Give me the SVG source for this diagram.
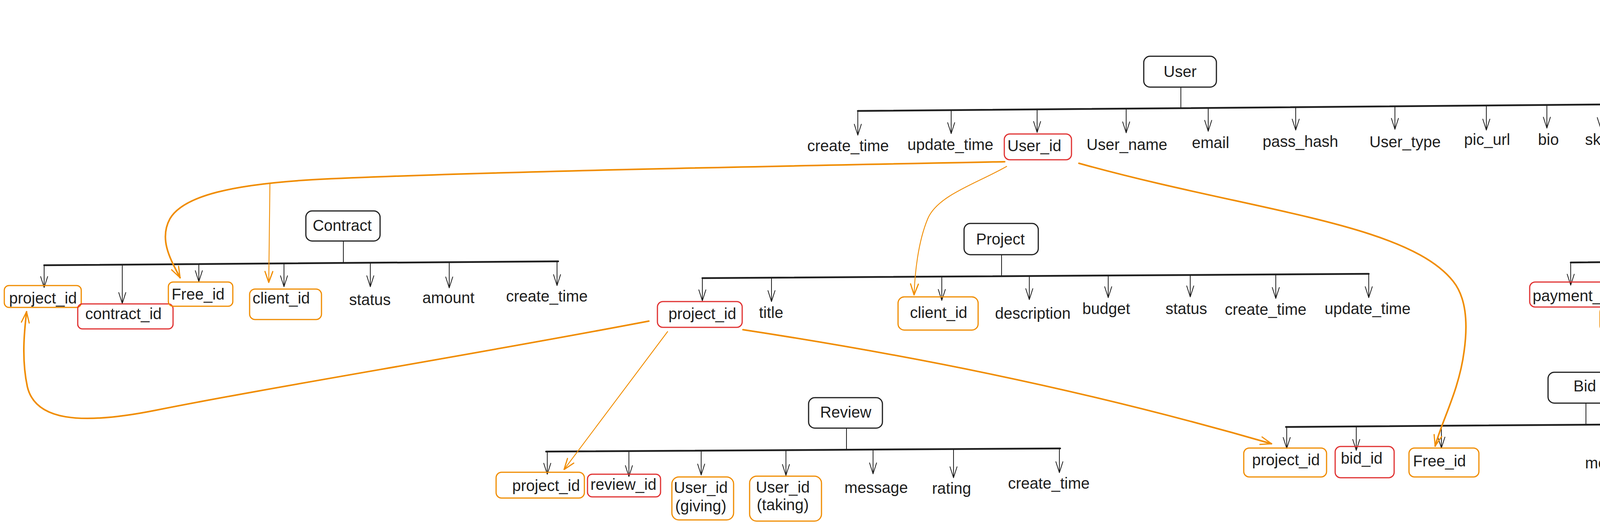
<svg xmlns="http://www.w3.org/2000/svg" width="5733" height="1344" viewBox="0 0 5733 1344">
<defs>
<style>
.ent{fill:#ffffff;stroke:#1e1e1e;stroke-width:3}
.pk{fill:none;stroke:#e03131;stroke-width:3}
.fk{fill:none;stroke:#f08c00;stroke-width:3}
text{font-family:"Liberation Sans",Arial,sans-serif;font-size:40px;fill:#1e1e1e;text-anchor:middle}
.lg{text-anchor:start}
.bus{stroke:#1e1e1e;stroke-width:4.5;fill:none;stroke-linecap:round}
.stem{stroke:#1e1e1e;stroke-width:2;fill:none}
.arr{stroke:#1e1e1e;stroke-width:2;fill:none;marker-end:url(#ah)}
.oc{stroke:#f08c00;stroke-width:4;fill:none;marker-end:url(#aho);stroke-linecap:round}
.ocn{stroke:#f08c00;stroke-width:2.2;fill:none;marker-end:url(#aho);stroke-linecap:round}
</style>
<marker id="ah" viewBox="-32 -14 36 28" markerWidth="36" markerHeight="28" refX="0" refY="0" orient="auto" markerUnits="userSpaceOnUse">
<path d="M-28,-9 L0,0 L-28,9" fill="none" stroke="#1e1e1e" stroke-width="2" stroke-linejoin="round" stroke-linecap="round"/>
</marker>
<marker id="aho" viewBox="-32 -14 36 28" markerWidth="36" markerHeight="28" refX="0" refY="0" orient="auto" markerUnits="userSpaceOnUse">
<path d="M-28,-10 L0,0 L-28,10" fill="none" stroke="#f08c00" stroke-width="3" stroke-linejoin="round" stroke-linecap="round"/>
</marker>
</defs>
<rect width="5733" height="1344" fill="#ffffff"/>

<g id="legend">
<g id="legend-pk"><rect x="4763" y="10" width="282" height="97" rx="22" class="pk"/><text x="5071" y="80" class="lg" style="fill:#e03131">Primary Key</text></g>
<g id="legend-fk"><rect x="4765" y="168" width="282" height="97" rx="22" class="fk"/><text x="5072" y="238" class="lg" style="fill:#f08c00">Foreign Key</text></g>
</g>

<g id="connectors">
<line class="stem" x1="3023" y1="223" x2="3023" y2="276"/>
<line class="bus" x1="2196" y1="284" x2="4281" y2="266"/>
<line class="arr" x1="2196" y1="284" x2="2196" y2="346"/>
<line class="arr" x1="2435" y1="282" x2="2435" y2="342"/>
<line class="arr" x1="2655" y1="280" x2="2655" y2="339"/>
<line class="arr" x1="2883" y1="278" x2="2883" y2="340"/>
<line class="arr" x1="3093" y1="276" x2="3093" y2="336"/>
<line class="arr" x1="3317" y1="274" x2="3317" y2="333"/>
<line class="arr" x1="3571" y1="272" x2="3571" y2="331"/>
<line class="arr" x1="3805" y1="270" x2="3805" y2="333"/>
<line class="arr" x1="3960" y1="269" x2="3960" y2="328"/>
<line class="arr" x1="4098" y1="268" x2="4098" y2="329"/>
<line class="arr" x1="4281" y1="266" x2="4281" y2="328"/>
<line class="stem" x1="879" y1="617" x2="879" y2="673"/>
<line class="bus" x1="113" y1="679" x2="1429" y2="669"/>
<line class="arr" x1="113" y1="679" x2="113" y2="736"/>
<line class="arr" x1="313" y1="677.5" x2="313" y2="777"/>
<line class="arr" x1="509" y1="676" x2="509" y2="721"/>
<line class="arr" x1="727" y1="674" x2="727" y2="734"/>
<line class="arr" x1="948" y1="673" x2="948" y2="734"/>
<line class="arr" x1="1150" y1="671" x2="1150" y2="737"/>
<line class="arr" x1="1426" y1="669" x2="1426" y2="731"/>
<line class="stem" x1="2564" y1="652" x2="2564" y2="706"/>
<line class="bus" x1="1798" y1="712" x2="3504" y2="701"/>
<line class="arr" x1="1798" y1="712" x2="1798" y2="770"/>
<line class="arr" x1="1975" y1="711" x2="1975" y2="772"/>
<line class="arr" x1="2411" y1="708" x2="2411" y2="769"/>
<line class="arr" x1="2635" y1="707" x2="2635" y2="767"/>
<line class="arr" x1="2837" y1="705" x2="2837" y2="762"/>
<line class="arr" x1="3047" y1="704" x2="3047" y2="760"/>
<line class="arr" x1="3266" y1="702.5" x2="3266" y2="764"/>
<line class="arr" x1="3504" y1="701" x2="3504" y2="762"/>
<line class="stem" x1="4787" y1="612" x2="4787" y2="664"/>
<line class="bus" x1="4021" y1="672" x2="5615" y2="658"/>
<line class="arr" x1="4021" y1="672" x2="4021" y2="730"/>
<line class="arr" x1="4198" y1="670.5" x2="4198" y2="779"/>
<line class="arr" x1="4417" y1="668.5" x2="4417" y2="729"/>
<line class="arr" x1="4634" y1="666.6" x2="4634" y2="729"/>
<line class="arr" x1="4856" y1="664.7" x2="4856" y2="729"/>
<line class="arr" x1="5058" y1="663" x2="5058" y2="730"/>
<line class="arr" x1="5277" y1="661" x2="5277" y2="738"/>
<line class="arr" x1="5615" y1="658" x2="5615" y2="729"/>
<line class="stem" x1="2167" y1="1096" x2="2167" y2="1150"/>
<line class="bus" x1="1398" y1="1156" x2="2714" y2="1148"/>
<line class="arr" x1="1401" y1="1156" x2="1401" y2="1214"/>
<line class="arr" x1="1610" y1="1155" x2="1610" y2="1220"/>
<line class="arr" x1="1795" y1="1153.6" x2="1795" y2="1216"/>
<line class="arr" x1="2012" y1="1152" x2="2012" y2="1217"/>
<line class="arr" x1="2235" y1="1151" x2="2235" y2="1213"/>
<line class="arr" x1="2441" y1="1149.7" x2="2441" y2="1223"/>
<line class="arr" x1="2712" y1="1148" x2="2712" y2="1210"/>
<line class="stem" x1="4060" y1="1032" x2="4060" y2="1087"/>
<line class="bus" x1="3292" y1="1093" x2="4610" y2="1083"/>
<line class="arr" x1="3294" y1="1093" x2="3294" y2="1148"/>
<line class="arr" x1="3472" y1="1091.6" x2="3472" y2="1153"/>
<line class="arr" x1="3690" y1="1090" x2="3690" y2="1147"/>
<line class="arr" x1="4131" y1="1086.6" x2="4131" y2="1149"/>
<line class="arr" x1="4332" y1="1085" x2="4332" y2="1151"/>
<line class="arr" x1="4605" y1="1083" x2="4605" y2="1146"/>
<path class="oc" d="M2572,414 C2000,425 1200,440 800,460 C600,472 470,500 435,560 C405,615 440,670 461,711"/>
<path class="ocn" d="M691,470 L688,723"/>
<path class="ocn" d="M2577,426 C2500,470 2400,500 2375,560 C2350,620 2342,700 2340,755"/>
<path class="oc" d="M2762,418 C3200,540 3600,570 3720,720 C3760,770 3755,850 3748,900 C3735,1000 3690,1080 3674,1142"/>
<path class="oc" d="M1661,822 C1200,910 700,990 400,1050 C200,1090 90,1075 70,990 C55,920 62,850 68,798"/>
<path class="ocn" d="M1709,849 L1444,1202"/>
<path class="oc" d="M1902,844 C2300,905 2750,990 3255,1136"/>
</g>

<g id="user">
<rect x="2928" y="144" width="186" height="79" rx="16" class="ent"/><text x="3021" y="197">User</text>
</g>
<g id="user-create_time"><text x="2171" y="387">create_time</text></g>
<g id="user-update_time"><text x="2433" y="384">update_time</text></g>
<g id="user-user_id"><rect x="2571" y="343" width="172" height="66" rx="14" class="pk"/><text x="2648" y="387">User_id</text></g>
<g id="user-user_name"><text x="2885" y="384">User_name</text></g>
<g id="user-email"><text x="3099" y="379">email</text></g>
<g id="user-pass_hash"><text x="3329" y="376">pass_hash</text></g>
<g id="user-user_type"><text x="3597" y="377">User_type</text></g>
<g id="user-pic_url"><text x="3807" y="371">pic_url</text></g>
<g id="user-bio"><text x="3964" y="371">bio</text></g>
<g id="user-skills"><text x="4101" y="371">skills</text></g>
<g id="user-rating"><text x="4281" y="367">rating</text></g>

<g id="contract">
<rect x="783" y="540" width="190" height="77" rx="16" class="ent"/><text x="876" y="591">Contract</text>
</g>
<g id="contract-project_id"><rect x="11" y="731" width="197" height="56" rx="12" class="fk"/><text x="110" y="777">project_id</text></g>
<g id="contract-contract_id"><rect x="199" y="778" width="244" height="64" rx="12" class="pk"/><text x="316" y="817">contract_id</text></g>
<g id="contract-free_id"><rect x="431" y="722" width="165" height="62" rx="12" class="fk"/><text x="507" y="767">Free_id</text></g>
<g id="contract-client_id"><rect x="639" y="740" width="184" height="78" rx="14" class="fk"/><text x="720" y="777">client_id</text></g>
<g id="contract-status"><text x="947" y="781">status</text></g>
<g id="contract-amount"><text x="1148" y="776">amount</text></g>
<g id="contract-create_time"><text x="1400" y="772">create_time</text></g>

<g id="project">
<rect x="2468" y="572" width="190" height="80" rx="16" class="ent"/><text x="2561" y="626">Project</text>
</g>
<g id="project-project_id"><rect x="1683" y="772" width="217" height="66" rx="14" class="pk"/><text x="1798" y="817">project_id</text></g>
<g id="project-title"><text x="1974" y="814">title</text></g>
<g id="project-client_id"><rect x="2299" y="760" width="205" height="85" rx="16" class="fk"/><text x="2403" y="814">client_id</text></g>
<g id="project-description"><text x="2644" y="816">description</text></g>
<g id="project-budget"><text x="2832" y="804">budget</text></g>
<g id="project-status"><text x="3037" y="804">status</text></g>
<g id="project-create_time"><text x="3240" y="806">create_time</text></g>
<g id="project-update_time"><text x="3501" y="804">update_time</text></g>

<g id="payments">
<rect x="4691" y="532" width="189" height="80" rx="16" class="ent"/><text x="4784" y="586">Payments</text>
</g>
<g id="payments-payment_id"><rect x="3916" y="722" width="222" height="64" rx="14" class="pk"/><text x="4027" y="771">payment_id</text></g>
<g id="payments-contract_id"><rect x="4096" y="787" width="232" height="59" rx="12" class="fk"/><text x="4204" y="819">contract_id</text></g>
<g id="payments-free_id"><rect x="4342" y="725" width="148" height="65" rx="12" class="fk"/><text x="4414" y="774">Free_id</text></g>
<g id="payments-client_id"><rect x="4547" y="734" width="183" height="63" rx="12" class="fk"/><text x="4632" y="774">client_id</text></g>
<g id="payments-amount"><text x="4856" y="774">amount</text></g>
<g id="payments-status"><text x="5055" y="769">status</text></g>
<g id="payments-transaction_id"><text x="5333" y="777">Transaction_id</text></g>
<g id="payments-create_time"><text x="5615" y="777">create_time</text></g>

<g id="review">
<rect x="2070" y="1018" width="189" height="78" rx="16" class="ent"/><text x="2165" y="1069">Review</text>
</g>
<g id="review-project_id"><rect x="1270" y="1209" width="226" height="66" rx="14" class="fk"/><text x="1398" y="1257">project_id</text></g>
<g id="review-review_id"><rect x="1504" y="1214" width="187" height="58" rx="12" class="pk"/><text x="1596" y="1254">review_id</text></g>
<g id="review-user_id_giving"><rect x="1720" y="1221" width="158" height="110" rx="18" class="fk"/><text x="1794" y="1262">User_id</text><text x="1794" y="1309">(giving)</text></g>
<g id="review-user_id_taking"><rect x="1919" y="1219" width="184" height="115" rx="18" class="fk"/><text x="2004" y="1261">User_id</text><text x="2004" y="1306">(taking)</text></g>
<g id="review-message"><text x="2243" y="1262">message</text></g>
<g id="review-rating"><text x="2436" y="1264">rating</text></g>
<g id="review-create_time"><text x="2685" y="1251">create_time</text></g>

<g id="bid">
<rect x="3963" y="953" width="190" height="79" rx="16" class="ent"/><text x="4057" y="1002">Bid</text>
</g>
<g id="bid-project_id"><rect x="3184" y="1147" width="212" height="74" rx="14" class="fk"/><text x="3292" y="1191">project_id</text></g>
<g id="bid-bid_id"><rect x="3418" y="1143" width="151" height="80" rx="14" class="pk"/><text x="3486" y="1187">bid_id</text></g>
<g id="bid-free_id"><rect x="3607" y="1147" width="179" height="74" rx="14" class="fk"/><text x="3685" y="1194">Free_id</text></g>
<g id="bid-message"><text x="4139" y="1199">message</text></g>
<g id="bid-bid_amt"><text x="4337" y="1189">bid_amt</text></g>
<g id="bid-create_time"><text x="4579" y="1186">create_time</text></g>
</svg>
